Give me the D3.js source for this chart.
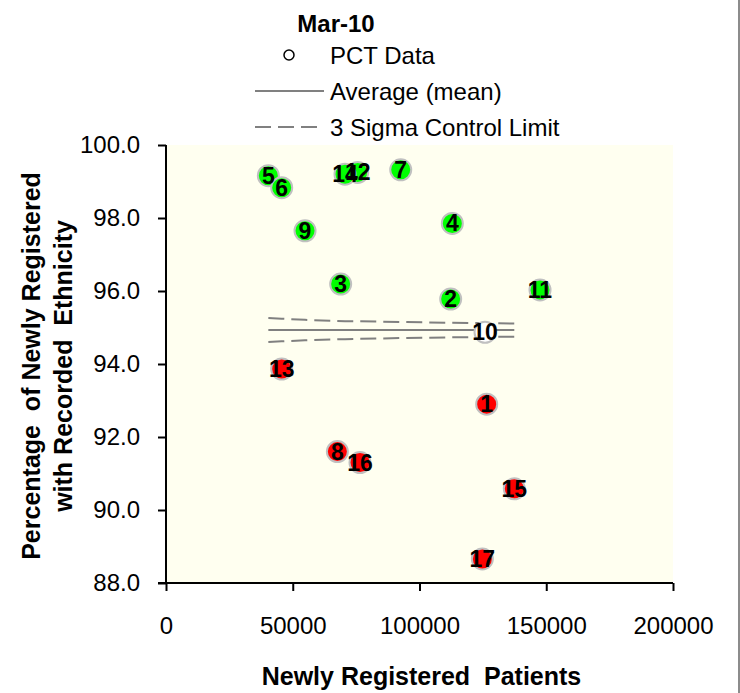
<!DOCTYPE html>
<meta charset="utf-8">
<style>
body { margin: 0; background: #fff; }
text { font-family: "Liberation Sans", Arial, Helvetica, sans-serif; fill: #000; white-space: pre; }
.tick text { font-size: 24px; }
.ptlabel { font-size: 23px; font-weight: bold; }
</style>
<script src="https://d3js.org/d3.v7.min.js"></script>
<div id="chart"></div>
<script>

// PCT data: newly registered patients vs % with recorded ethnicity
var pctIds   = [1, 2, 3, 4, 5, 6, 7, 8, 9, 10, 11, 12, 13, 14, 15, 16, 17];
var patients = [126500, 112300, 68900, 112950, 40370, 45640, 92590, 67600, 54840,
                125850, 147540, 75620, 45640, 70620, 137400, 76530, 124790];
var percent  = [92.90, 95.78, 96.19, 97.85, 99.16, 98.83, 99.32, 91.60, 97.65,
                94.87, 96.03, 99.25, 93.86, 99.20, 90.58, 91.30, 88.66];

// average and 3 sigma funnel
var meanValue = 94.93;
var limitN     = [40370, 45640, 54840, 67600, 70620, 75620, 76530, 92590, 112300, 124790, 126500, 137400];
var upperLimit = [95.26, 95.24, 95.21, 95.18, 95.17, 95.17, 95.17, 95.15, 95.13, 95.12, 95.12, 95.11];
var lowerLimit = [94.60, 94.62, 94.65, 94.68, 94.68, 94.69, 94.69, 94.71, 94.73, 94.74, 94.74, 94.75];

var xTicks = [0, 50000, 100000, 150000, 200000];
var yTicks = [88, 90, 92, 94, 96, 98, 100];

var W = 740, H = 693;
var margin = {top: 145, right: 67, bottom: 110, left: 166},
    width = W - margin.left - margin.right,
    height = H - margin.top - margin.bottom;

var svg = d3.select("#chart").append("svg")
    .attr("width", W)
    .attr("height", H);

// outer frame edge on the right
svg.append("line")
    .attr("x1", 739).attr("x2", 739).attr("y1", 0).attr("y2", H)
    .attr("stroke", "#8c8c8c").attr("stroke-width", 2);

var g = svg.append("g")
    .attr("transform", "translate(" + margin.left + "," + margin.top + ")");

var x = d3.scaleLinear().domain([0, 200000]).range([0, width]);
var y = d3.scaleLinear().domain([88, 100]).range([height, 0]);

g.append("rect")
    .attr("x", 0).attr("y", 0)
    .attr("width", width).attr("height", height)
    .attr("fill", "#fffff0");

// axes
var xAxis = g.append("g")
    .attr("class", "x axis")
    .attr("transform", "translate(0," + height + ")")
    .call(d3.axisBottom(x).tickValues(xTicks).tickFormat(d3.format("d")).tickSizeInner(8).tickSizeOuter(0).tickPadding(26));
xAxis.select(".domain").attr("d", "M-8,0H" + width).attr("stroke-width", 2);

var yAxis = g.append("g")
    .attr("class", "y axis")
    .call(d3.axisLeft(y).tickValues(yTicks).tickFormat(d3.format(".1f")).tickSizeInner(8).tickSizeOuter(0).tickPadding(18));
yAxis.select(".domain").attr("d", "M0," + height + "V0").attr("stroke-width", 2);
g.selectAll(".tick line").attr("stroke-width", 2);
g.selectAll(".tick text").attr("fill", "#000");

// average and control limits
var lineGen = d3.line()
    .x(function(d) { return x(d[0]); })
    .y(function(d) { return y(d[1]); });

g.append("path")
    .datum(limitN.map(function(n) { return [n, meanValue]; }))
    .attr("d", lineGen)
    .attr("fill", "none").attr("stroke", "#808080").attr("stroke-width", 2);

[upperLimit, lowerLimit].forEach(function(lim) {
  g.append("path")
    .datum(limitN.map(function(n, i) { return [n, lim[i]]; }))
    .attr("d", lineGen)
    .attr("fill", "none").attr("stroke", "#808080").attr("stroke-width", 2)
    .attr("stroke-dasharray", "16,7");
});

// points
var pts = pctIds.map(function(id, i) {
  var c = percent[i] > upperLimit[upperLimit.length - 1] ? "#00ff00"
        : percent[i] < lowerLimit[0] ? "#ff0000" : "#ffffff";
  return {id: id, n: patients[i], p: percent[i], color: c};
});

g.selectAll("circle.pt")
  .data(pts)
  .enter().append("circle")
    .attr("class", "pt")
    .attr("cx", function(d) { return x(d.n); })
    .attr("cy", function(d) { return y(d.p); })
    .attr("r", 10.5)
    .attr("fill", function(d) { return d.color; })
    .attr("stroke", "#c0c0c0")
    .attr("stroke-width", 2);

g.selectAll("text.ptlabel")
  .data(pts)
  .enter().append("text")
    .attr("class", "ptlabel")
    .attr("x", function(d) { return x(d.n); })
    .attr("y", function(d) { return y(d.p) + 8; })
    .attr("text-anchor", "middle")
    .text(function(d) { return d.id; });

// axis titles
svg.append("text")
    .attr("x", margin.left + width / 2 + 2)
    .attr("y", 685)
    .attr("text-anchor", "middle")
    .style("font-size", "25px").style("font-weight", "bold")
    .text("Newly Registered  Patients");

var yTitle = svg.append("text")
    .attr("transform", "translate(0," + (margin.top + height / 2 + 2) + ") rotate(-90)")
    .attr("text-anchor", "middle")
    .style("font-size", "25px").style("font-weight", "bold");
yTitle.append("tspan").attr("x", 0).attr("y", 40).text("Percentage  of Newly Registered");
yTitle.append("tspan").attr("x", 0).attr("y", 72).text("with Recorded  Ethnicity");

// legend
var legend = svg.append("g");
legend.append("text")
    .attr("x", 336).attr("y", 32)
    .attr("text-anchor", "middle")
    .style("font-size", "24px").style("font-weight", "bold")
    .text("Mar-10");

var legendItems = ["PCT Data", "Average (mean)", "3 Sigma Control Limit"];
var li = legend.selectAll(".li")
  .data(legendItems)
  .enter().append("g")
    .attr("class", "li")
    .attr("transform", function(d, i) { return "translate(0," + (55 + i * 36) + ")"; });

li.append("text")
    .attr("x", 330).attr("y", 9)
    .style("font-size", "24px")
    .text(function(d) { return d; });

li.each(function(d, i) {
  var s = d3.select(this);
  if (i === 0) {
    s.append("circle").attr("cx", 289).attr("cy", 0).attr("r", 5)
      .attr("fill", "none").attr("stroke", "#000").attr("stroke-width", 1.5);
  } else {
    s.append("line").attr("x1", 255).attr("x2", 324).attr("y1", 0).attr("y2", 0)
      .attr("stroke", "#808080").attr("stroke-width", 2)
      .attr("stroke-dasharray", i === 2 ? "16,7" : null);
  }
});

</script>
